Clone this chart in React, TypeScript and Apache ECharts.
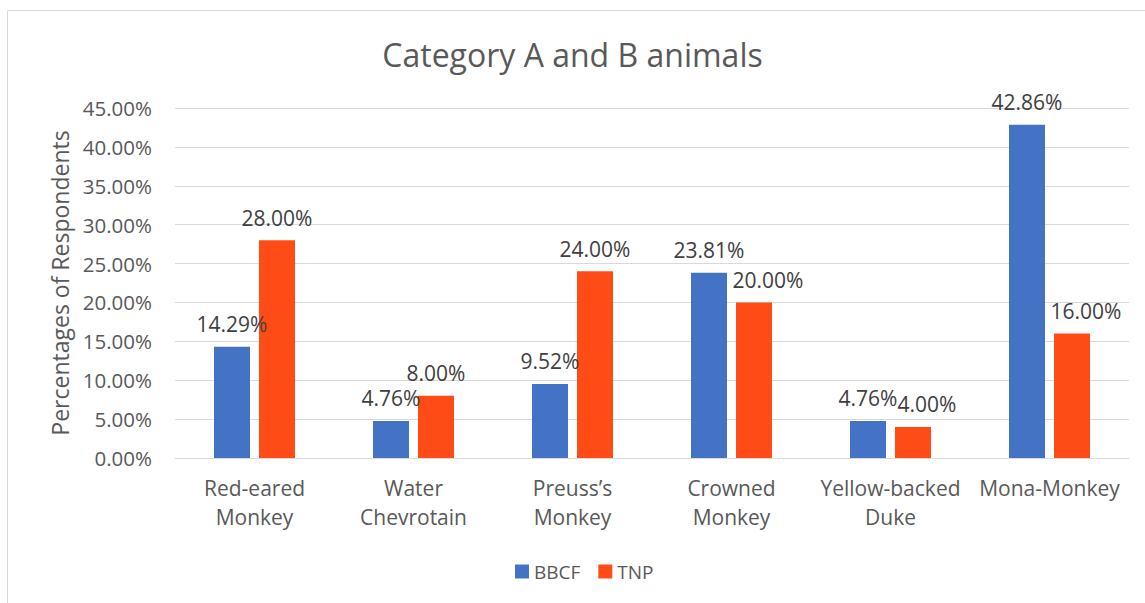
import React, { useEffect, useRef } from "react";
import * as echarts from "echarts";

const categories = [
  "Red-eared Monkey",
  "Water Chevrotain",
  "Preuss’s Monkey",
  "Crowned Monkey",
  "Yellow-backed Duke",
  "Mona-Monkey",
];
const bbcf = [14.29, 4.76, 9.52, 23.81, 4.76, 42.86];
const tnp = [28.0, 8.0, 24.0, 20.0, 4.0, 16.0];
const seriesNames = ["BBCF", "TNP"];
const yTicks = { min: 0, max: 45, interval: 5 };
const title = "Category A and B animals";
const yAxisTitle = "Percentages of Respondents";

// label indices of TNP nudged right in the original (to avoid overlap)
const tnpNudged = [3, 4, 5];

const FONT = "'Open Sans', Lato, sans-serif";

export default function App() {
  const ref = useRef<HTMLDivElement>(null);
  useEffect(() => {
    if (!ref.current) return;
    const chart = echarts.init(ref.current, null, { renderer: "svg" });
    const pct = (v: number) => v.toFixed(2) + "%";
    const labelStyle = {
      show: true,
      position: "top",
      distance: 12,
      fontSize: 21,
      color: "#404040",
      fontFamily: FONT,
      formatter: (p: any) => pct(p.value),
    };
    chart.setOption({
      animation: false,
      textStyle: { fontFamily: FONT },
      title: {
        text: title,
        left: "center",
        top: 33,
        textStyle: { fontFamily: FONT, fontSize: 32, fontWeight: "normal", color: "#595959" },
      },
      graphic: [
        {
          type: "rect",
          shape: { x: 7.5, y: 10.5, width: 1145, height: 600 },
          style: { fill: "none", stroke: "#d9d9d9", lineWidth: 1 },
          silent: true,
        },
      ],
      legend: {
        bottom: 17,
        left: 510,
        icon: "rect",
        itemWidth: 14,
        itemHeight: 14,
        itemGap: 18,
        textStyle: { fontFamily: FONT, fontSize: 19, color: "#595959" },
        data: seriesNames,
      },
      grid: { left: 175, right: 16, top: 108, bottom: 145, containLabel: false },
      xAxis: {
        type: "category",
        data: categories,
        axisLine: { lineStyle: { color: "#d9d9d9", width: 1 } },
        axisTick: { show: false },
        axisLabel: {
          interval: 0,
          margin: 15,
          fontSize: 21,
          lineHeight: 29,
          color: "#595959",
          fontFamily: FONT,
          formatter: (v: string) => v.replace(" ", "\n"),
        },
      },
      yAxis: {
        type: "value",
        min: yTicks.min,
        max: yTicks.max,
        interval: yTicks.interval,
        name: yAxisTitle,
        nameLocation: "middle",
        nameRotate: 90,
        nameGap: 103,
        nameTextStyle: { fontFamily: FONT, fontSize: 23, color: "#595959" },
        axisLine: { show: false },
        axisTick: { show: false },
        splitLine: { lineStyle: { color: "#d9d9d9", width: 1 } },
        axisLabel: {
          margin: 23,
          fontSize: 20.5,
          color: "#595959",
          fontFamily: FONT,
          formatter: (v: number) => pct(v),
        },
      },
      series: [
        {
          name: seriesNames[0],
          type: "bar",
          data: bbcf,
          barWidth: 36,
          barGap: "25%",
          itemStyle: { color: "#4472C4" },
          label: labelStyle,
        },
        {
          name: seriesNames[1],
          type: "bar",
          data: tnp.map((v, i) =>
            tnpNudged.includes(i) ? { value: v, label: { offset: [14, 0] } } : v
          ),
          barWidth: 36,
          itemStyle: { color: "#FF4C17" },
          label: labelStyle,
        },
      ],
    });
    return () => chart.dispose();
  }, []);
  return (
    <div
      ref={ref}
      style={{ position: "fixed", left: 0, top: 0, width: 1145, height: 603, background: "#fff" }}
    />
  );
}
